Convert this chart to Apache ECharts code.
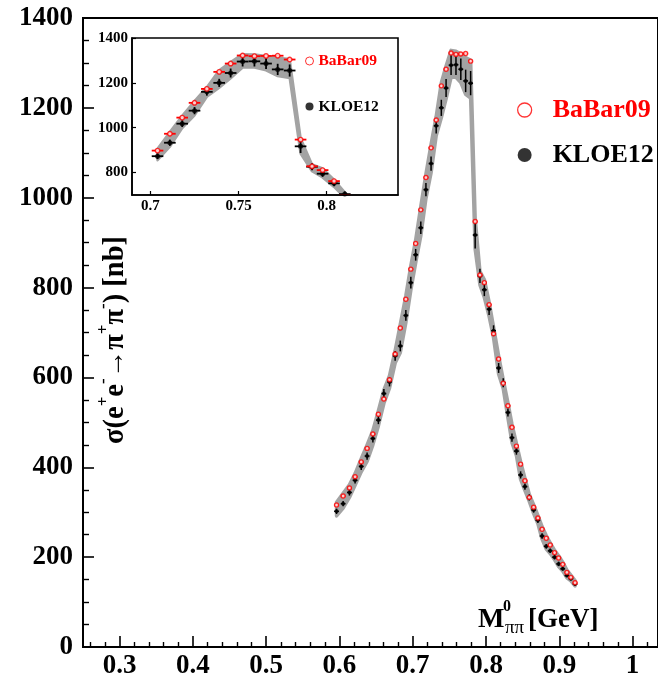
<!DOCTYPE html>
<html>
<head>
<meta charset="utf-8">
<script src="https://cdn.jsdelivr.net/npm/echarts@6/dist/echarts.min.js"></script>
<style>
  html, body { margin: 0; padding: 0; background: #ffffff; }
  #chart { width: 658px; height: 680px; }
</style>
</head>
<body>
<div id="chart"></div>
<script>
// pi+ pi- invariant mass bins [GeV]
const mass = [
  0.596, 0.605, 0.6136, 0.6213, 0.6297, 0.6377, 0.6456, 0.6531, 0.6606, 0.6683,
  0.676, 0.683, 0.6906, 0.6974, 0.704, 0.711, 0.718, 0.725, 0.732, 0.739,
  0.7455, 0.7523, 0.759, 0.7656, 0.7722, 0.779, 0.7852, 0.7917, 0.7977, 0.8042,
  0.8103, 0.8172, 0.8235, 0.8299, 0.8354, 0.8415, 0.8472, 0.8531, 0.859, 0.865,
  0.8708, 0.8765, 0.8822, 0.8876, 0.8936, 0.8991, 0.9047, 0.9104, 0.9158, 0.9215
];
// BaBar09 cross section [nb]
const babar09 = [
  316, 336, 354, 379, 412, 442, 474, 518, 552, 595,
  652, 710, 774, 841, 898, 973, 1045, 1111, 1173, 1249,
  1286, 1322, 1319, 1320, 1321, 1304, 947, 828, 811, 762,
  697, 641, 587, 537, 489, 447, 407, 370, 333, 311,
  287, 262, 242, 227, 210, 198, 184, 166, 155, 143
];
// KLOE12 cross section [nb]
const kloe12 = [
  302, 319, 344, 371, 402, 425, 464, 505, 564, 590,
  648, 670, 738, 811, 873, 933, 1018, 1076, 1160, 1200,
  1244, 1295, 1296, 1286, 1260, 1255, 917, 826, 795, 752,
  704, 621, 588, 522, 466, 436, 383, 357, 333, 305,
  282, 247, 224, 214, 200, 185, 174, 159, 152, 140
];
// KLOE12 uncertainty [nb]
const kloe12Err = [
  6, 6, 7, 7, 8, 8, 9, 9, 10, 10,
  11, 12, 12, 13, 13, 14, 15, 16, 17, 18,
  20, 22, 23, 24, 25, 27, 30, 16, 14, 13,
  12, 11, 10, 9, 9, 8, 8, 7, 7, 6,
  6, 6, 5, 5, 5, 5, 4, 4, 4, 4
];
// combined uncertainty band [nb]
const bandLow = [
  292, 309, 333, 360, 390, 413, 450, 492, 542, 576,
  632, 655, 722, 794, 855, 915, 998, 1055, 1138, 1178,
  1220, 1268, 1268, 1256, 1230, 1222, 885, 806, 778, 736,
  688, 607, 575, 510, 455, 426, 373, 348, 324, 297,
  274, 240, 218, 208, 194, 179, 169, 154, 147, 136
];
const bandHigh = [
  322, 342, 361, 386, 419, 450, 482, 526, 572, 604,
  660, 718, 782, 849, 906, 981, 1053, 1119, 1181, 1256,
  1293, 1328, 1326, 1320, 1312, 1306, 953, 836, 818, 768,
  712, 648, 595, 544, 496, 453, 413, 376, 340, 317,
  293, 268, 248, 232, 215, 203, 189, 171, 160, 148
];
// half width of a mass bin [GeV]
const binHalfWidth = 0.0033;
// the zoomed panel shows the bins from this mass upwards [GeV]
const insetFrom = 0.70;

const SERIF = 'Liberation Serif';
const RED = '#ff0000';
const BAND = '#a3a3a3';

const chart = echarts.init(document.getElementById('chart'), null, { renderer: 'canvas' });

function bandRenderer(first, strokeWidth) {
  return function (params, api) {
    const pts = [];
    for (let i = first; i < mass.length; i++) pts.push(api.coord([mass[i], bandHigh[i]]));
    for (let i = mass.length - 1; i >= first; i--) pts.push(api.coord([mass[i], bandLow[i]]));
    return {
      type: 'polygon', shape: { points: pts },
      style: { fill: BAND, stroke: BAND, lineWidth: strokeWidth, lineJoin: 'round' }
    };
  };
}

function barRenderer(color, lineWidth, withVertical) {
  return function (params, api) {
    const x = api.value(0), y = api.value(1), e = api.value(2);
    const l = api.coord([x - binHalfWidth, y]);
    const r = api.coord([x + binHalfWidth, y]);
    const children = [{
      type: 'line',
      shape: { x1: l[0], y1: l[1], x2: r[0], y2: r[1] },
      style: { stroke: color, lineWidth: lineWidth }
    }];
    if (withVertical) {
      const t = api.coord([x, y + e]);
      const b = api.coord([x, y - e]);
      children.push({
        type: 'line',
        shape: { x1: t[0], y1: t[1], x2: b[0], y2: b[1] },
        style: { stroke: color, lineWidth: lineWidth }
      });
    }
    return { type: 'group', children: children };
  };
}

const kloeData = mass.map((m, i) => [m, kloe12[i], kloe12Err[i]]);
const babarData = mass.map((m, i) => [m, babar09[i], 0]);
const insetStart = mass.findIndex(m => m >= insetFrom);

function seriesFor(gi, first, sizes) {
  const k = kloeData.slice(first);
  const b = babarData.slice(first);
  return [
    {
      type: 'custom', name: 'band', xAxisIndex: gi, yAxisIndex: gi, clip: true, silent: true,
      data: [[mass[first], bandLow[first]]], encode: { x: 0, y: 1 },
      renderItem: bandRenderer(first, sizes.band), z: 1
    },
    {
      type: 'custom', name: 'KLOE12 errors', xAxisIndex: gi, yAxisIndex: gi, clip: true, silent: true,
      data: k, encode: { x: 0, y: 1 }, renderItem: barRenderer('#000000', sizes.bar, true), z: 2
    },
    {
      type: 'scatter', name: 'KLOE12', xAxisIndex: gi, yAxisIndex: gi, clip: true, silent: true,
      data: k, symbol: 'circle', symbolSize: sizes.dot,
      itemStyle: { color: '#000000' }, z: 3
    },
    {
      type: 'custom', name: 'BaBar09 errors', xAxisIndex: gi, yAxisIndex: gi, clip: true, silent: true,
      data: b, encode: { x: 0, y: 1 }, renderItem: barRenderer(RED, sizes.bar, false), z: 4
    },
    {
      type: 'scatter', name: 'BaBar09', xAxisIndex: gi, yAxisIndex: gi, clip: true, silent: true,
      data: b, symbol: 'circle', symbolSize: sizes.ring,
      itemStyle: { color: '#ffffff', borderColor: RED, borderWidth: 1.4 }, z: 5
    }
  ];
}

const plain = v => String(v);
const labelMain = { fontFamily: SERIF, fontWeight: 'bold', fontSize: 27, color: '#000', formatter: plain };
const labelInset = { fontFamily: SERIF, fontWeight: 'bold', fontSize: 15, color: '#000', formatter: plain };

const option = {
  animation: false,
  backgroundColor: '#ffffff',
  grid: [
    { left: 83, top: 18, width: 576, height: 630, show: true, borderColor: '#000', borderWidth: 2, containLabel: false },
    { left: 132, top: 38, width: 266, height: 157, show: true, borderColor: '#000', borderWidth: 1.6,
      backgroundColor: '#ffffff', containLabel: false }
  ],
  xAxis: [
    {
      type: 'value', gridIndex: 0, min: 0.25, max: 1.0347, splitNumber: 8,
      axisLine: { show: true, lineStyle: { color: '#000', width: 2 } },
      axisTick: { show: true, inside: true, length: 11, lineStyle: { color: '#000', width: 1.6 } },
      minorTick: { show: true, splitNumber: 5, length: 5, lineStyle: { color: '#000', width: 1.4 } },
      splitLine: { show: false },
      axisLabel: Object.assign({ margin: 6, showMinLabel: false, showMaxLabel: false }, labelMain)
    },
    {
      type: 'value', gridIndex: 1, min: 0.6895, max: 0.8405, splitNumber: 3,
      axisLine: { show: true, lineStyle: { color: '#000', width: 1.6 } },
      axisTick: { show: true, inside: true, length: 4, lineStyle: { color: '#000', width: 1.2 } },
      splitLine: { show: false },
      axisLabel: Object.assign({ margin: 4, showMinLabel: false, showMaxLabel: false }, labelInset)
    }
  ],
  yAxis: [
    {
      type: 'value', gridIndex: 0, min: 0, max: 1400, interval: 200,
      axisLine: { show: true, lineStyle: { color: '#000', width: 2 } },
      axisTick: { show: true, inside: true, length: 11, lineStyle: { color: '#000', width: 1.6 } },
      minorTick: { show: true, splitNumber: 4, length: 6, lineStyle: { color: '#000', width: 1.4 } },
      splitLine: { show: false },
      axisLabel: Object.assign({ margin: 10 }, labelMain)
    },
    {
      type: 'value', gridIndex: 1, min: 700, max: 1400, splitNumber: 3,
      axisLine: { show: true, lineStyle: { color: '#000', width: 1.6 } },
      axisTick: { show: true, inside: true, length: 4, lineStyle: { color: '#000', width: 1.2 } },
      splitLine: { show: false },
      axisLabel: Object.assign({ margin: 4, showMinLabel: false }, labelInset)
    }
  ],
  legend: [
    {
      orient: 'vertical', left: 517, top: 97, padding: 0, itemWidth: 46, itemHeight: 14, itemGap: 19,
      icon: 'circle', selectedMode: false,
      textStyle: { fontFamily: SERIF, fontWeight: 'bold', fontSize: 26 },
      data: [
        { name: 'BaBar09', itemStyle: { color: '#ffffff', borderColor: RED, borderWidth: 1.3 }, textStyle: { color: RED } },
        { name: 'KLOE12', itemStyle: { color: '#000000', borderWidth: 0 }, textStyle: { color: '#000000' } }
      ]
    },
    {
      orient: 'vertical', left: 305, top: 53, padding: 0, itemWidth: 8, itemHeight: 8, itemGap: 29.5,
      icon: 'circle', selectedMode: false,
      textStyle: { fontFamily: SERIF, fontWeight: 'bold', fontSize: 15.5 },
      data: [
        { name: 'BaBar09', itemStyle: { color: '#ffffff', borderColor: RED, borderWidth: 1 }, textStyle: { color: RED } },
        { name: 'KLOE12', itemStyle: { color: '#000000', borderWidth: 0 }, textStyle: { color: '#000000' } }
      ]
    }
  ],
  graphic: [
    {
      type: 'text', x: 116, y: 340, rotation: Math.PI / 2, silent: true,
      style: {
        text: '{m|σ(e}{s|+}{m|e}{s|-}{m|→π}{s|+}{m|π}{s|-}{m|) [nb]}',
        align: 'center', verticalAlign: 'middle',
        rich: {
          m: { fontFamily: SERIF, fontWeight: 'bold', fontSize: 28.5, fill: '#000' },
          s: { fontFamily: SERIF, fontWeight: 'bold', fontSize: 17, fill: '#000', padding: [0, 0, 24, 0] }
        }
      }
    },
    {
      type: 'group', silent: true,
      children: [
        { type: 'text', x: 478, y: 620, style: { text: 'M', fontFamily: SERIF, fontWeight: 'bold', fontSize: 28, fill: '#000', align: 'left', verticalAlign: 'middle' } },
        { type: 'text', x: 503, y: 607, style: { text: '0', fontFamily: SERIF, fontWeight: 'bold', fontSize: 16, fill: '#000', align: 'left', verticalAlign: 'middle' } },
        { type: 'text', x: 505, y: 628, style: { text: 'ππ', fontFamily: SERIF, fontSize: 19, fill: '#000', align: 'left', verticalAlign: 'middle' } },
        { type: 'text', x: 528, y: 620, style: { text: '[GeV]', fontFamily: SERIF, fontWeight: 'bold', fontSize: 27, fill: '#000', align: 'left', verticalAlign: 'middle' } }
      ]
    }
  ],
  series: [].concat(
    seriesFor(0, 0, { bar: 1.5, dot: 4, ring: 4, band: 3.5 }),
    seriesFor(1, insetStart, { bar: 1.8, dot: 5, ring: 4.5, band: 2.5 })
  )
};

chart.setOption(option);
</script>
</body>
</html>
